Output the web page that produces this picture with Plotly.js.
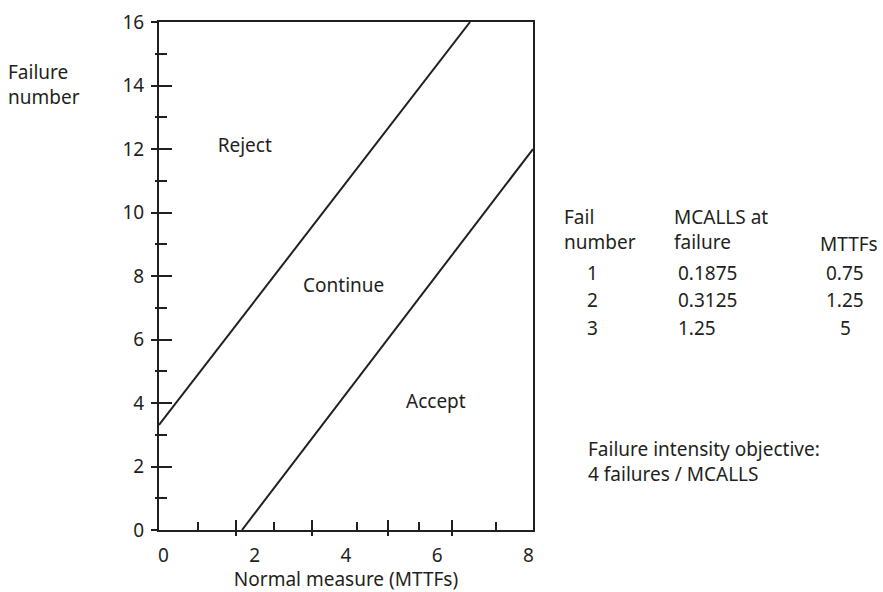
<!DOCTYPE html>
<html><head><meta charset="utf-8">
<script src="https://cdn.plot.ly/plotly-3.0.1.min.js"></script>
<style>body{margin:0;background:#fff}#c{width:883px;height:592px}</style>
</head><body><div id="c"></div>
<script>
// Boundary lines
const rejectX = [-0.1, 6.72];
const rejectY = [3.31, 16];
const acceptX = [1.72, 8.1];
const acceptY = [0, 12];
// Region labels
const regionText = ["Reject", "Continue", "Accept"];
const regionX = [1.78, 3.95, 5.97];
const regionY = [12.06, 7.65, 4.0];
// Axis ticks
const xLabelVals = [0, 2, 4, 6, 8];
const xMajorTicks = [1.59, 3.25, 4.92, 6.32];
const xMinorTicks = [0.75, 2.42, 4.24, 5.6, 7.29];
const yLabelVals = [0, 2, 4, 6, 8, 10, 12, 14, 16];
const yMinorTicks = [1, 3, 5, 7, 9, 11, 13, 15];
// Side table
const tblFail = ["1", "2", "3"];
const tblMcalls = ["0.1875", "0.3125", "1.25"];
const tblMttf = ["0.75", "1.25", "5"];

const ink = '#231f20';
const F = 'Noto Sans, Open Sans, sans-serif';
const FS = 19;
const xr = [-0.1, 8.1], yr = [0, 16];

const traces = [
  {x: rejectX, y: rejectY, mode: 'lines', line: {color: ink, width: 2}, hoverinfo: 'skip', showlegend: false},
  {x: acceptX, y: acceptY, mode: 'lines', line: {color: ink, width: 2}, hoverinfo: 'skip', showlegend: false},
  {x: regionX, y: regionY, mode: 'text', text: regionText, textfont: {family: F, size: FS, color: ink}, hoverinfo: 'skip', showlegend: false},
  {x: [], y: [], xaxis: 'x2', yaxis: 'y2', showlegend: false},
  {x: [], y: [], xaxis: 'x3', yaxis: 'y3', showlegend: false}
];

const ann = [];
function txt(x, y, t, xanchor) {
  ann.push({xref: 'paper', yref: 'paper', x: x, y: y, text: t, showarrow: false, xanchor: xanchor || 'left', yanchor: 'middle', align: 'left', font: {family: F, size: FS, color: ink}});
}
const L = 159, R = 533, T = 22, B = 530;
function px(p) { return (p - L) / (R - L); }
function py(p) { return (B - p) / (B - T); }
txt(px(6), py(72), 'Failure');
txt(px(6), py(97), 'number');
txt(px(562), py(217), 'Fail');
txt(px(562), py(242), 'number');
txt(px(672), py(217), 'MCALLS at');
txt(px(672), py(242), 'failure');
txt(px(818), py(244), 'MTTFs');
const rowY = [273, 300, 328];
for (let i = 0; i < 3; i++) {
  txt(px(592), py(rowY[i]), tblFail[i], 'center');
  txt(px(676), py(rowY[i]), tblMcalls[i]);
  txt(px(845), py(rowY[i]), tblMttf[i], 'center');
}
txt(px(586), py(461), 'Failure intensity objective:<br>4 failures / MCALLS');

const layout = {
  width: 883, height: 592,
  margin: {l: L, r: 883 - R, t: T, b: 592 - B, pad: 0},
  paper_bgcolor: '#fff', plot_bgcolor: '#fff',
  showlegend: false,
  font: {family: F, size: FS, color: ink},
  xaxis: {range: xr, tickmode: 'array', tickvals: xLabelVals, ticks: '', showgrid: false, zeroline: false,
          showline: true, mirror: true, linecolor: ink, linewidth: 2, tickfont: {family: F, size: FS, color: ink},
          ticklabelstandoff: 7,
          title: {text: 'Normal measure (MTTFs)', font: {family: F, size: FS, color: ink}, standoff: 2}},
  xaxis2: {range: xr, overlaying: 'x', anchor: 'y2', side: 'bottom', tickmode: 'array', tickvals: xMajorTicks,
           ticks: 'outside', ticklen: 5, tickwidth: 2, tickcolor: ink, showticklabels: false, showgrid: false, zeroline: false, showline: false,
           minor: {tickmode: 'array', tickvals: xMinorTicks, ticks: 'inside', ticklen: 8, tickwidth: 2, tickcolor: ink}},
  xaxis3: {range: xr, overlaying: 'x', anchor: 'y3', side: 'bottom', tickmode: 'array', tickvals: xMajorTicks,
           ticks: 'inside', ticklen: 10, tickwidth: 2, tickcolor: ink, showticklabels: false, showgrid: false, zeroline: false, showline: false},
  yaxis: {range: yr, tickmode: 'array', tickvals: yLabelVals, ticks: 'outside', ticklen: 6, tickwidth: 2, tickcolor: ink,
          showgrid: false, zeroline: false, showline: true, mirror: true, linecolor: ink, linewidth: 2,
          tickfont: {family: F, size: FS, color: ink}, ticklabelstandoff: 3,
          minor: {tickmode: 'array', tickvals: yMinorTicks, ticks: 'outside', ticklen: 2, tickwidth: 2, tickcolor: ink}},
  yaxis2: {range: yr, overlaying: 'y', side: 'left', anchor: 'x2', tickmode: 'array', tickvals: yLabelVals, ticks: 'inside', ticklen: 13, tickwidth: 2, tickcolor: ink,
           showticklabels: false, showgrid: false, zeroline: false, showline: false,
           minor: {tickmode: 'array', tickvals: yMinorTicks, ticks: 'inside', ticklen: 8, tickwidth: 2, tickcolor: ink}},
  yaxis3: {range: yr, overlaying: 'y', side: 'left', anchor: 'x3', showticklabels: false, ticks: '', showgrid: false, zeroline: false, showline: false},
  annotations: ann
};
Plotly.newPlot('c', traces, layout, {staticPlot: true});
</script></body></html>
